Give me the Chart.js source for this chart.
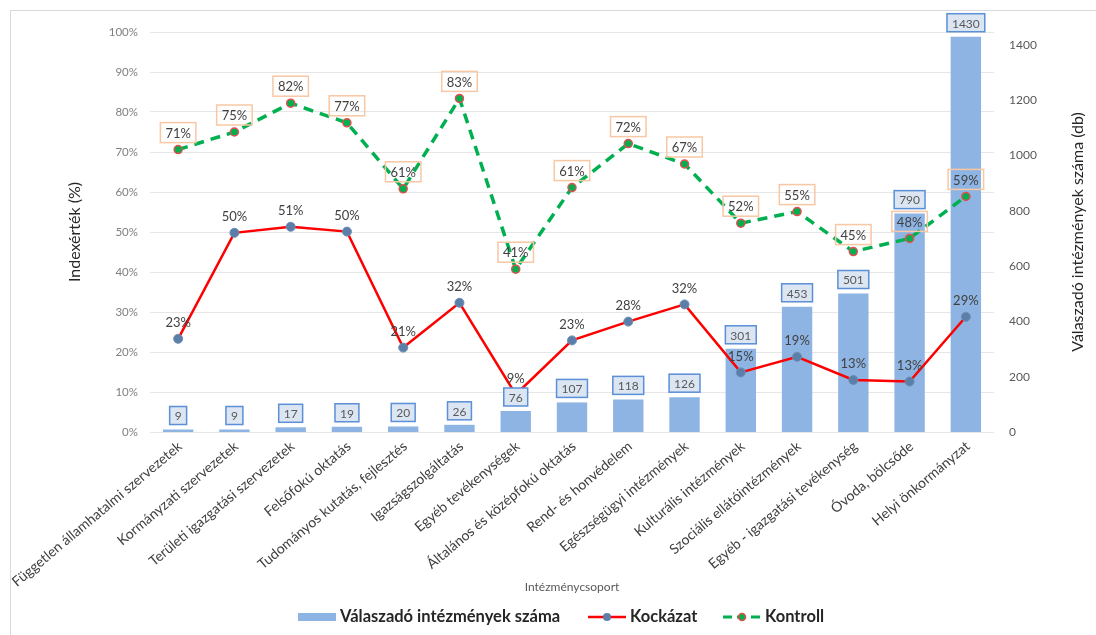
<!DOCTYPE html>
<html>
<head>
    <meta charset="utf-8">
    <title>Intézménycsoportok</title>
    <script src="https://cdn.jsdelivr.net/npm/chart.js"></script>
    <style>
        body {
            margin: 0;
            background-color: #ffffff;
        }

        #wrap {
            width: 1096px;
            height: 635px;
        }
    </style>
</head>
<body>
    <div id="wrap"><canvas id="indexChart" width="1096" height="635"></canvas></div>

    <script>
        var categories = [
            "Független államhatalmi szervezetek", "Kormányzati szervezetek", "Területi igazgatási szervezetek",
            "Felsőfokú oktatás", "Tudományos kutatás, fejlesztés", "Igazságszolgáltatás", "Egyéb tevékenységek",
            "Általános és középfokú oktatás", "Rend- és honvédelem", "Egészségügyi intézmények",
            "Kulturális intézmények", "Szociális ellátóintézmények", "Egyéb - igazgatási tevékenység",
            "Óvoda, bölcsőde", "Helyi önkormányzat"
        ];
        var respondents = [9, 9, 17, 19, 20, 26, 76, 107, 118, 126, 301, 453, 501, 790, 1430];
        var riskValues = [23.3, 49.8, 51.3, 50.1, 21.1, 32.3, 9.4, 22.9, 27.6, 31.9, 14.9, 18.8, 13.0, 12.6, 28.8];
        var controlValues = [70.6, 75.0, 82.2, 77.3, 60.8, 83.4, 40.7, 61.1, 72.1, 67.0, 52.2, 55.1, 45.1, 48.4, 58.9];
        var percentTicks = [0, 10, 20, 30, 40, 50, 60, 70, 80, 90, 100];
        var countTicks = [0, 200, 400, 600, 800, 1000, 1200, 1400];

        var fontFamily = 'Lato, "Liberation Sans", sans-serif';
        Chart.defaults.font.family = fontFamily;

        function fixTicks(list) {
            return function (scale) {
                scale.ticks = list.map(function (v) { return { value: v }; });
            };
        }

        var frame = {
            id: 'frame',
            beforeDraw: function (chart) {
                var ctx = chart.ctx;
                ctx.save();
                ctx.strokeStyle = '#d9d9d9';
                ctx.lineWidth = 1;
                ctx.strokeRect(10.5, 10.5, 1200, 800);
                ctx.restore();
            }
        };

        var valueLabels = {
            id: 'valueLabels',
            afterDatasetsDraw: function (chart) {
                var ctx = chart.ctx;
                ctx.save();
                ctx.textAlign = 'center';
                ctx.textBaseline = 'middle';

                // bar counts in blue boxes
                ctx.font = '12px ' + fontFamily;
                chart.getDatasetMeta(2).data.forEach(function (bar, i) {
                    var text = String(respondents[i]);
                    var w = ctx.measureText(text).width + 10, h = 18;
                    var cy = bar.y - 14;
                    ctx.fillStyle = '#dce6f2';
                    ctx.fillRect(bar.x - w / 2, cy - h / 2, w, h);
                    ctx.strokeStyle = '#5b8fd6';
                    ctx.lineWidth = 1.5;
                    ctx.strokeRect(bar.x - w / 2, cy - h / 2, w, h);
                    ctx.fillStyle = '#595959';
                    ctx.fillText(text, bar.x, cy + 1);
                });

                // risk labels, plain text
                ctx.font = '13px ' + fontFamily;
                ctx.fillStyle = '#404040';
                chart.getDatasetMeta(0).data.forEach(function (pt, i) {
                    ctx.fillText(Math.round(riskValues[i]) + '%', pt.x, pt.y - 16);
                });

                // control labels in orange boxes
                chart.getDatasetMeta(1).data.forEach(function (pt, i) {
                    var text = Math.round(controlValues[i]) + '%';
                    var w = ctx.measureText(text).width + 10, h = 20;
                    var cy = pt.y - 17;
                    ctx.strokeStyle = '#f8c7a4';
                    ctx.lineWidth = 1.5;
                    ctx.strokeRect(pt.x - w / 2, cy - h / 2, w, h);
                    ctx.fillStyle = '#404040';
                    ctx.fillText(text, pt.x, cy + 1);
                });
                ctx.restore();
            }
        };

        // right axis title reads bottom-to-top like the left one
        var rightTitle = {
            id: 'rightTitle',
            afterDraw: function (chart) {
                var ctx = chart.ctx;
                var area = chart.chartArea;
                ctx.save();
                ctx.translate(1078, (area.top + area.bottom) / 2);
                ctx.rotate(-Math.PI / 2);
                ctx.font = '16px ' + fontFamily;
                ctx.fillStyle = '#262626';
                ctx.textAlign = 'center';
                ctx.textBaseline = 'middle';
                ctx.fillText('Válaszadó intézmények száma (db)', 0, 0);
                ctx.restore();
            }
        };

        var bottomLegend = {
            id: 'bottomLegend',
            afterDraw: function (chart) {
                var ctx = chart.ctx;
                var y = 617;
                var starts = [298, 588, 723];
                ctx.save();
                ctx.font = 'bold 16.5px ' + fontFamily;
                ctx.textBaseline = 'middle';
                ctx.textAlign = 'left';

                var x = starts[0];
                ctx.fillStyle = '#8eb4e3';
                ctx.fillRect(x, y - 4, 38, 8);
                ctx.fillStyle = '#262626';
                ctx.fillText('Válaszadó intézmények száma', x + 42, y);

                x = starts[1];
                ctx.strokeStyle = '#ff0000';
                ctx.lineWidth = 2.5;
                ctx.beginPath();
                ctx.moveTo(x, y);
                ctx.lineTo(x + 38, y);
                ctx.stroke();
                ctx.fillStyle = '#5b7fa8';
                ctx.beginPath();
                ctx.arc(x + 19, y, 4, 0, Math.PI * 2);
                ctx.fill();
                ctx.fillStyle = '#262626';
                ctx.fillText('Kockázat', x + 42, y);

                x = starts[2];
                ctx.strokeStyle = '#00b050';
                ctx.lineWidth = 3;
                ctx.setLineDash([9, 5]);
                ctx.beginPath();
                ctx.moveTo(x, y);
                ctx.lineTo(x + 38, y);
                ctx.stroke();
                ctx.setLineDash([]);
                ctx.fillStyle = '#00b050';
                ctx.strokeStyle = '#e05050';
                ctx.lineWidth = 1.5;
                ctx.beginPath();
                ctx.arc(x + 19, y, 3.5, 0, Math.PI * 2);
                ctx.fill();
                ctx.stroke();
                ctx.fillStyle = '#262626';
                ctx.fillText('Kontroll', x + 42, y);
                ctx.restore();
            }
        };

        new Chart(document.getElementById('indexChart').getContext('2d'), {
            data: {
                labels: categories,
                datasets: [{
                    type: 'line',
                    label: 'Kockázat',
                    data: riskValues,
                    yAxisID: 'y',
                    borderColor: '#ff0000',
                    borderWidth: 2.5,
                    pointRadius: 4.5,
                    pointBackgroundColor: '#5b7fa8',
                    pointBorderColor: '#6f8db3',
                    pointBorderWidth: 1,
                    tension: 0,
                    order: 1
                }, {
                    type: 'line',
                    label: 'Kontroll',
                    data: controlValues,
                    yAxisID: 'y',
                    borderColor: '#00b050',
                    borderWidth: 3.5,
                    borderDash: [10, 7],
                    pointRadius: 4,
                    pointBackgroundColor: '#00b050',
                    pointBorderColor: '#e05050',
                    pointBorderWidth: 1.5,
                    tension: 0,
                    order: 2
                }, {
                    type: 'bar',
                    label: 'Válaszadó intézmények száma',
                    data: respondents,
                    yAxisID: 'y1',
                    backgroundColor: '#8eb4e3',
                    barPercentage: 0.54,
                    categoryPercentage: 1,
                    order: 3
                }]
            },
            options: {
                responsive: false,
                animation: false,
                devicePixelRatio: 1,
                layout: { padding: { top: 32, bottom: 35, left: 0, right: 0 } },
                plugins: {
                    legend: { display: false },
                    tooltip: { enabled: false }
                },
                scales: {
                    x: {
                        offset: true,
                        grid: { display: false, drawTicks: false },
                        border: { display: false },
                        ticks: {
                            autoSkip: false,
                            minRotation: 40,
                            maxRotation: 40,
                            labelOffset: 2,
                            padding: 6,
                            color: '#404040',
                            font: { size: 14 }
                        },
                        title: {
                            display: true,
                            text: 'Intézménycsoport',
                            color: '#595959',
                            font: { size: 12 },
                            padding: { top: 0, bottom: 6 }
                        },
                        afterFit: function (scale) {
                            scale.height = 168;
                            scale.paddingLeft = 0;
                            scale.paddingRight = 0;
                        }
                    },
                    y: {
                        position: 'left',
                        min: 0,
                        max: 100,
                        afterBuildTicks: fixTicks(percentTicks),
                        grid: { color: '#e6e6e6', drawTicks: false },
                        border: { display: false },
                        ticks: {
                            padding: 12,
                            color: '#7f7f7f',
                            font: { size: 11.5 },
                            callback: function (v) { return v + '%'; }
                        },
                        title: {
                            display: true,
                            text: 'Indexérték (%)',
                            color: '#262626',
                            font: { size: 16 },
                            padding: { top: 65, bottom: 0 }
                        },
                        afterFit: function (scale) { scale.width = 150; }
                    },
                    y1: {
                        position: 'right',
                        min: 0,
                        max: 1447,
                        afterBuildTicks: fixTicks(countTicks),
                        grid: { display: false, drawTicks: false },
                        border: { display: false },
                        ticks: {
                            padding: 15,
                            color: '#595959',
                            font: { size: 12 },
                            callback: function (v) { return String(v); }
                        },
                        afterFit: function (scale) { scale.width = 102; }
                    }
                }
            },
            plugins: [frame, valueLabels, rightTitle, bottomLegend]
        });
    </script>
</body>
</html>
